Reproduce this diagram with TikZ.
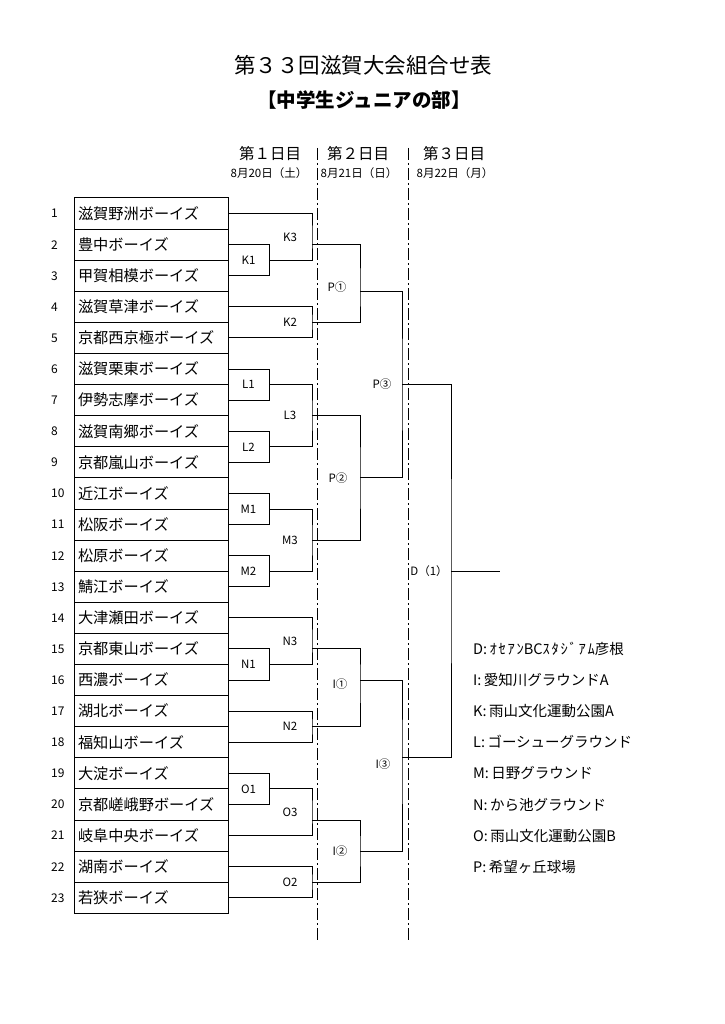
\documentclass[tikz,border=0pt]{standalone}
\usepackage{fontspec}
\setmainfont{Noto Sans CJK JP}
\usetikzlibrary{positioning}

\begin{document}
\begin{tikzpicture}[
  x=1pt, y=-1pt,
  team/.style={draw, line width=1pt, minimum height=31.1pt, text width=146pt, inner xsep=4pt, inner ysep=0pt, align=left, font=\fontsize{15.2}{15}\selectfont},
  num/.style={anchor=west, inner sep=0pt, font=\fontsize{12}{12}\selectfont},
  gbox/.style={draw, line width=1pt, minimum width=41pt, minimum height=31.1pt, inner sep=0pt, font=\fontsize{11.5}{11.5}\selectfont},
  lbl/.style={inner sep=0pt, font=\fontsize{11.5}{11.5}\selectfont},
  day/.style={inner sep=0pt, font=\fontsize{15.5}{15.5}\selectfont},
  date/.style={inner sep=0pt, font=\fontsize{11.5}{11.5}\selectfont},
  site/.style={anchor=west, inner sep=0pt, font=\fontsize{14.5}{14.5}\selectfont},
  bracket/.style={line width=1pt},
  dayline/.style={line width=1pt, dash pattern=on 12pt off 3pt on 2pt off 3pt},
]
  \useasboundingbox (0,0) rectangle (724,1024);

  % Title
  \node[font=\fontsize{21.5}{21.5}\selectfont] (title) at (363,65) {第３３回滋賀大会組合せ表};
  \node[font=\fontsize{19.5}{19.5}\selectfont\bfseries] (subtitle) at (364,100) {【中学生ジュニアの部】};

  % Days
  \node[day] (day1) at (270,154) {第１日目};
  \node[day] (day2) at (358,154) {第２日目};
  \node[day] (day3) at (454,154) {第３日目};
  \node[date] (date1) at (269,173) {8月20日（土）};
  \node[date] (date2) at (359,173) {8月21日（日）};
  \node[date] (date3) at (455,173) {8月22日（月）};
  \draw[dayline] (317,148) -- (317,942);
  \draw[dayline] (408,148) -- (408,942);

  % Teams
  \node[team] (t1) at (151,213.55) {滋賀野洲ボーイズ};
  \node[team] (t2) at (151,244.65) {豊中ボーイズ};
  \node[team] (t3) at (151,275.75) {甲賀相模ボーイズ};
  \node[team] (t4) at (151,306.85) {滋賀草津ボーイズ};
  \node[team] (t5) at (151,337.95) {京都西京極ボーイズ};
  \node[team] (t6) at (151,369.05) {滋賀栗東ボーイズ};
  \node[team] (t7) at (151,400.15) {伊勢志摩ボーイズ};
  \node[team] (t8) at (151,431.25) {滋賀南郷ボーイズ};
  \node[team] (t9) at (151,462.35) {京都嵐山ボーイズ};
  \node[team] (t10) at (151,493.45) {近江ボーイズ};
  \node[team] (t11) at (151,524.55) {松阪ボーイズ};
  \node[team] (t12) at (151,555.65) {松原ボーイズ};
  \node[team] (t13) at (151,586.75) {鯖江ボーイズ};
  \node[team] (t14) at (151,617.85) {大津瀬田ボーイズ};
  \node[team] (t15) at (151,648.95) {京都東山ボーイズ};
  \node[team] (t16) at (151,680.05) {西濃ボーイズ};
  \node[team] (t17) at (151,711.15) {湖北ボーイズ};
  \node[team] (t18) at (151,742.25) {福知山ボーイズ};
  \node[team] (t19) at (151,773.35) {大淀ボーイズ};
  \node[team] (t20) at (151,804.45) {京都嵯峨野ボーイズ};
  \node[team] (t21) at (151,835.55) {岐阜中央ボーイズ};
  \node[team] (t22) at (151,866.65) {湖南ボーイズ};
  \node[team] (t23) at (151,897.75) {若狭ボーイズ};

  % Numbers
  \node[num] (n1) at (51,213.55) {1};
  \node[num] (n2) at (51,244.65) {2};
  \node[num] (n3) at (51,275.75) {3};
  \node[num] (n4) at (51,306.85) {4};
  \node[num] (n5) at (51,337.95) {5};
  \node[num] (n6) at (51,369.05) {6};
  \node[num] (n7) at (51,400.15) {7};
  \node[num] (n8) at (51,431.25) {8};
  \node[num] (n9) at (51,462.35) {9};
  \node[num] (n10) at (51,493.45) {10};
  \node[num] (n11) at (51,524.55) {11};
  \node[num] (n12) at (51,555.65) {12};
  \node[num] (n13) at (51,586.75) {13};
  \node[num] (n14) at (51,617.85) {14};
  \node[num] (n15) at (51,648.95) {15};
  \node[num] (n16) at (51,680.05) {16};
  \node[num] (n17) at (51,711.15) {17};
  \node[num] (n18) at (51,742.25) {18};
  \node[num] (n19) at (51,773.35) {19};
  \node[num] (n20) at (51,804.45) {20};
  \node[num] (n21) at (51,835.55) {21};
  \node[num] (n22) at (51,866.65) {22};
  \node[num] (n23) at (51,897.75) {23};

  % Day 1 boxes
  \node[gbox] (k1) at (248.5,260.2) {K1};
  \node[gbox] (l1) at (248.5,384.6) {L1};
  \node[gbox] (l2) at (248.5,446.8) {L2};
  \node[gbox] (m1) at (248.5,509.0) {M1};
  \node[gbox] (m2) at (248.5,571.2) {M2};
  \node[gbox] (n1box) at (248.5,664.5) {N1};
  \node[gbox] (o1) at (248.5,788.9) {O1};

  % Day 1 joins
  \coordinate (k3) at (312,236.9);
  \coordinate (k2) at (312,322.4);
  \coordinate (l3) at (312,415.7);
  \coordinate (m3) at (312,540.1);
  \coordinate (n3) at (312,641.2);
  \coordinate (n2) at (312,726.7);
  \coordinate (o3) at (312,812.2);
  \coordinate (o2) at (312,882.2);
  \draw[bracket] (t1.east) -| (k3) |- (k1.east);
  \draw[bracket] (t4.east) -| (k2) |- (t5.east);
  \draw[bracket] (l1.east) -| (l3) |- (l2.east);
  \draw[bracket] (m1.east) -| (m3) |- (m2.east);
  \draw[bracket] (t14.east) -| (n3) |- (n1box.east);
  \draw[bracket] (t17.east) -| (n2) |- (t18.east);
  \draw[bracket] (o1.east) -| (o3) |- (t21.east);
  \draw[bracket] (t22.east) -| (o2) |- (t23.east);
  \node[lbl] (k3lbl) at (290,236.9) {K3};
  \node[lbl] (k2lbl) at (290,322.4) {K2};
  \node[lbl] (l3lbl) at (290,415.7) {L3};
  \node[lbl] (m3lbl) at (290,540.1) {M3};
  \node[lbl] (n3lbl) at (290,641.2) {N3};
  \node[lbl] (n2lbl) at (290,726.7) {N2};
  \node[lbl] (o3lbl) at (290,812.2) {O3};
  \node[lbl] (o2lbl) at (290,882.2) {O2};

  % Day 2
  \coordinate (p1in) at (312,244.65);
  \coordinate (i1in) at (312,648.95);
  \coordinate (i2in) at (312,820.0);
  \coordinate (p1) at (360,291.3);
  \coordinate (p2) at (360,477.9);
  \coordinate (i1) at (360,680.05);
  \coordinate (i2) at (360,851.1);
  \draw[bracket] (p1in) -| (p1) |- (k2);
  \draw[bracket] (l3) -| (p2) |- (m3);
  \draw[bracket] (i1in) -| (i1) |- (n2);
  \draw[bracket] (i2in) -| (i2) |- (o2);
  \node[lbl] (p1lbl) at (337,287) {P①};
  \node[lbl] (p2lbl) at (338,477.9) {P②};
  \node[lbl] (i1lbl) at (340,684) {I①};
  \node[lbl] (i2lbl) at (340,851.1) {I②};

  % Day 3
  \coordinate (p3) at (402,384.6);
  \coordinate (i3) at (402,757.8);
  \coordinate (d1) at (451,571.2);
  \coordinate (final) at (500,571.2);
  \draw[bracket] (p1) -| (p3) |- (p2);
  \draw[bracket] (i1) -| (i3) |- (i2);
  \draw[bracket] (p3) -| (d1) |- (i3);
  \draw[bracket] (d1) -- (final);
  \node[lbl] (p3lbl) at (382,384.6) {P③};
  \node[lbl] (i3lbl) at (383,764) {I③};
  \node[lbl] (d1lbl) at (429,571.2) {D（1）};

  % Grounds
  \node[site] (sd) at (473,648.95) {D:\,{\addfontfeature{LetterSpace=12}ｵｾｱﾝ}BC{\addfontfeature{LetterSpace=12}ｽﾀｼﾞｱﾑ}彦根};
  \node[site] (si) at (473,680.05) {I:\,愛知川グラウンドA};
  \node[site] (sk) at (473,711.15) {K:\,雨山文化運動公園A};
  \node[site] (sl) at (473,742.25) {L:\,ゴーシューグラウンド};
  \node[site] (sm) at (473,773.35) {M:\,日野グラウンド};
  \node[site] (sn) at (473,804.45) {N:\,から池グラウンド};
  \node[site] (so) at (473,835.55) {O:\,雨山文化運動公園B};
  \node[site] (sp) at (473,866.65) {P:\,希望ヶ丘球場};
\end{tikzpicture}
\end{document}
